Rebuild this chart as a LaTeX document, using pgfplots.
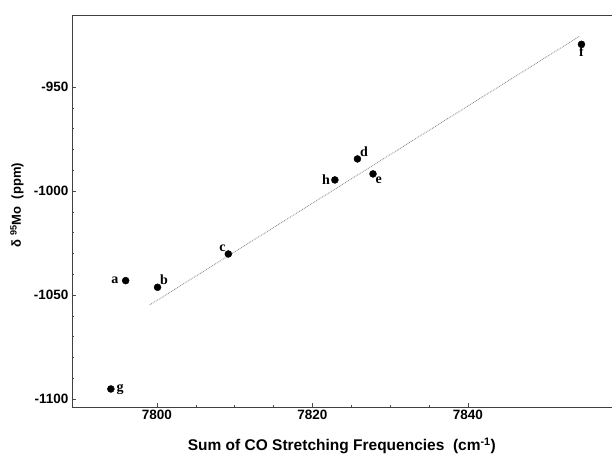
\documentclass[border=0pt]{standalone}
\usepackage{pgfplots}
\pgfplotsset{compat=1.18}
\usepackage{fontspec}
\setmainfont{Liberation Sans}
\newfontfamily\lblfont{Liberation Serif}
\tikzset{lbl/.style={font=\lblfont\bfseries\fontsize{14}{15}\selectfont, inner sep=2.5pt}}

\begin{document}
\begin{tikzpicture}
\begin{axis}[
    scale only axis,
    width=540pt, height=392pt,
    xmin=7789.1, xmax=7858.5,
    ymin=-1103.8, ymax=-915.4,
    axis x line=box, axis y line=left,
    axis line style={-, black!75, thin},
    xtick={7800,7820,7840}, ytick={-1100,-1050,-1000,-950},
    minor x tick num=3, minor y tick num=4,
    tick align=inside,
    tick style={black!70},
    major tick length=4pt, minor tick length=2pt,
    xtick pos=bottom,
    /pgf/number format/assume math mode=true,
    /pgf/number format/1000 sep={},
    ticklabel style={font=\bfseries\fontsize{13.5}{15}\selectfont},
    xlabel={Sum of CO Stretching Frequencies\ \ (cm\textsuperscript{-1})},
    ylabel={δ\ \textsuperscript{95}Mo\ \ (ppm)},
    xlabel style={font=\bfseries\fontsize{15.5}{17}\selectfont,
        at={(axis description cs:0.5,-0.0995)}, anchor=center},
    ylabel style={font=\bfseries\fontsize{13}{14}\selectfont,
        at={(axis description cs:-0.102,0.515)}, anchor=center},
    clip=false,
]
% least-squares line (dotted)
\addplot[densely dotted, gray, thick] coordinates {(7799.1,-1054.8) (7854.4,-925.5)};
% compounds a-h
\addplot[only marks, mark=*, mark size=3.5pt, black] coordinates {
  (7796.0,-1043.1) (7800.1,-1046.3) (7809.2,-1030.3) (7825.8,-984.6)
  (7827.8,-991.8) (7854.6,-929.5) (7794.1,-1095.2) (7822.9,-994.7)};
\node[lbl, anchor=east]       at (axis cs:7795.4,-1043.1) {a};
\node[lbl, anchor=south west] at (axis cs:7800.1,-1046.3) {b};
\node[lbl, anchor=south east] at (axis cs:7809.2,-1030.3) {c};
\node[lbl, anchor=south west] at (axis cs:7825.8,-984.6) {d};
\node[lbl, anchor=north west] at (axis cs:7827.8,-991.8) {e};
\node[lbl, anchor=north]      at (axis cs:7854.6,-929.5) {f};
\node[lbl, anchor=west]       at (axis cs:7794.5,-1095.2) {g};
\node[lbl, anchor=east]       at (axis cs:7822.6,-994.7) {h};
\end{axis}
\path ([xshift=-72pt,yshift=-53pt]current axis.south west) rectangle ([yshift=15pt]current axis.north east);
\end{tikzpicture}
\end{document}
